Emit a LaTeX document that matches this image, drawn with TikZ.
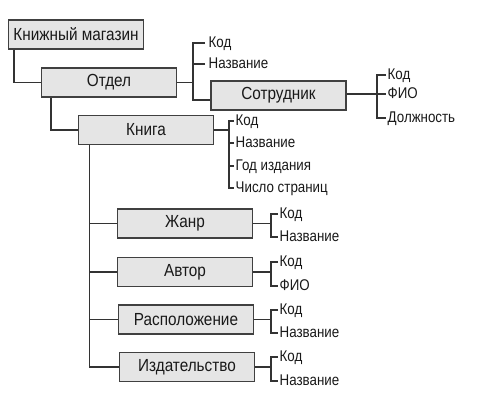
\documentclass[tikz,border=0pt]{standalone}
\usepackage{fontspec}
\setmainfont{Liberation Sans}
\newfontfamily\boxfont[FakeStretch=0.875]{Liberation Sans}
\newfontfamily\fldfont[FakeStretch=0.86]{Liberation Sans}
\begin{document}
\begin{tikzpicture}[x=1pt,y=-1pt,
  box/.style={draw=black!75,line width=1.5pt,fill=black!10,minimum width=135pt,minimum height=29pt,inner sep=0pt,
    font=\boxfont\fontsize{17.5}{19}\selectfont,text=black!90},
  fld/.style={anchor=west,inner sep=1.5pt,font=\fldfont\fontsize{15.5}{17}\selectfont,text=black!90,text height=11pt,text depth=2.5pt},
  con/.style={draw=black!80,line width=1.4pt}]
\useasboundingbox (0,0) rectangle (503,410);
% boxes
\node[box] (mag) at (76,34.5) {Книжный магазин};
\node[box] (otdel) at (109,82.5) {Отдел};
\node[box] (sotr) at (278.5,95.5) {Сотрудник};
\node[box] (kniga) at (146,130) {Книга};
\node[box] (zhanr) at (185,223.5) {Жанр};
\node[box] (avtor) at (185,272) {Автор};
\node[box] (rasp) at (186,319.5) {Расположение};
\node[box] (izd) at (187,367) {Издательство};
% fields
\node[fld] (o1) at (207,43) {Код};
\node[fld] (o2) at (207,64) {Название};
\node[fld] (s1) at (386,75) {Код};
\node[fld] (s2) at (386,94) {ФИО};
\node[fld] (s3) at (386,118) {Должность};
\node[fld] (k1) at (234,121) {Код};
\node[fld] (k2) at (234,143) {Название};
\node[fld] (k3) at (234,166) {Год издания};
\node[fld] (k4) at (234,188) {Число страниц};
\node[fld] (z1) at (278,214) {Код};
\node[fld] (z2) at (278,237) {Название};
\node[fld] (a1) at (278,262) {Код};
\node[fld] (a2) at (278,286) {ФИО};
\node[fld] (r1) at (278,310) {Код};
\node[fld] (r2) at (278,333) {Название};
\node[fld] (i1) at (278,357) {Код};
\node[fld] (i2) at (278,381) {Название};
% helper coordinates
\coordinate (mv) at (14,0);
\coordinate (ov) at (51,0);
\coordinate (kv) at (89.5,0);
\coordinate (ob) at (193,0);
\coordinate (sb) at (377,0);
\coordinate (kb) at (229,0);
\coordinate (subb) at (271,0);
\coordinate (sin) at ([yshift=-4.5pt]sotr.west);
% tree
\draw[con] (mv |- mag.south) |- (otdel.west);
\draw[con] (ov |- otdel.south) |- (kniga.west);
\draw[con] (kv |- kniga.south) |- (izd.west);
\draw[con] (kv |- zhanr.west) -- (zhanr.west);
\draw[con] (kv |- avtor.west) -- (avtor.west);
\draw[con] (kv |- rasp.west) -- (rasp.west);
% Отдел
\draw[con] (otdel.east) -- (ob |- otdel.east);
\draw[con] ([xshift=-2pt]o1.west) -| (ob |- sin) -- (sin);
\draw[con] ([xshift=-2pt]o2.west) -- (ob |- o2.west);
% Сотрудник
\draw[con] (sotr.east |- s2.west) -- (s2.west);
\draw[con] (s1.west) -| (sb |- s3.west) -- (s3.west);
% Книга
\draw[con] (kniga.east) -- (kb |- kniga.east);
\draw[con] (k1.west) -| (kb |- k4.west) -- (k4.west);
\draw[con] (k2.west) -- (kb |- k2.west);
\draw[con] (k3.west) -- (kb |- k3.west);
% subs
\draw[con] (zhanr.east) -- (subb |- zhanr.east);
\draw[con] (z1.west) -| (subb |- z2.west) -- (z2.west);
\draw[con] (avtor.east) -- (subb |- avtor.east);
\draw[con] (a1.west) -| (subb |- a2.west) -- (a2.west);
\draw[con] (rasp.east) -- (subb |- rasp.east);
\draw[con] (r1.west) -| (subb |- r2.west) -- (r2.west);
\draw[con] (izd.east) -- (subb |- izd.east);
\draw[con] (i1.west) -| (subb |- i2.west) -- (i2.west);
\end{tikzpicture}
\end{document}
